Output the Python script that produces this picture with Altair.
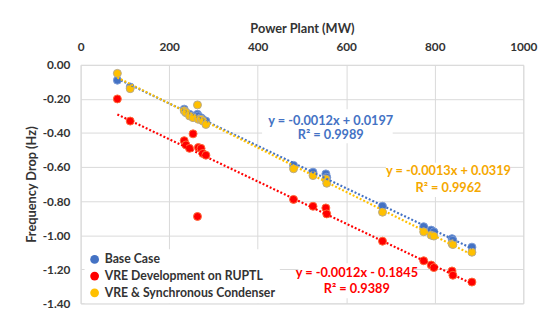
import altair as alt
import pandas as pd

# ---- data ----
series_names = ["Base Case", "VRE Development on RUPTL", "VRE & Synchronous Condenser"]
series_colors = ["#4472C4", "#FF0000", "#FFC000"]
series_strokes = ["#7A9BD6", "#FF6A3A", "#B8A98A"]

power_mw = [83, 112, 234, 238, 246, 254, 264, 266, 272, 276, 283,
            481, 525, 554, 556, 682, 775, 792, 798, 839, 841, 884]
base_case = [-0.09, -0.13, -0.26, -0.28, -0.29, -0.30, -0.29, -0.30, -0.31, -0.32, -0.33,
             -0.59, -0.63, -0.64, -0.66, -0.83, -0.95, -0.97, -0.98, -1.02, -1.03, -1.07]
vre_ruptl = [-0.20, -0.33, -0.445, -0.47, -0.49, -0.405, -0.89, -0.485, -0.49, -0.52, -0.53,
             -0.79, -0.83, -0.84, -0.875, -1.035, -1.15, -1.175, -1.19, -1.21, -1.235, -1.275]
vre_sc = [-0.05, -0.14, -0.27, -0.28, -0.30, -0.31, -0.235, -0.32, -0.32, -0.33, -0.35,
          -0.61, -0.65, -0.67, -0.695, -0.865, -0.98, -1.00, -1.005, -1.05, -1.055, -1.10]

x_ticks = [0, 200, 400, 600, 800, 1000]
y_ticks = [0.0, -0.2, -0.4, -0.6, -0.8, -1.0, -1.2, -1.4]

# trendline equation labels (as printed on the reference)
eq_text = ["y = -0.0012x + 0.0197", "R² = 0.9989",
           "y = -0.0013x + 0.0319", "R² = 0.9962",
           "y = -0.0012x - 0.1845", "R² = 0.9389"]
eq_x = [565, 565, 831, 831, 624, 624]
eq_y = [-0.328, -0.415, -0.626, -0.722, -1.221, -1.317]
eq_color = ["#4472C4", "#4472C4", "#F5A800", "#F5A800", "#FF0000", "#FF0000"]

# white boxes behind the equation labels
box_x1 = [410, 690, 492]
box_x2 = [705, 970, 750]
box_y1 = [-0.26, -0.575, -1.165]
box_y2 = [-0.46, -0.775, -1.37]

rows = []
for name, vals in zip(series_names, [base_case, vre_ruptl, vre_sc]):
    for xv, yv in zip(power_mw, vals):
        rows.append({"series": name, "x": xv, "y": yv})
df = pd.DataFrame(rows)
df_eq = pd.DataFrame({"t": eq_text, "x": eq_x, "y": eq_y, "c": eq_color})
df_box = pd.DataFrame({"x1": box_x1, "x2": box_x2, "y1": box_y1, "y2": box_y2})

FONT = "Lato"

xscale = alt.Scale(domain=[0, 1000], nice=False)
yscale = alt.Scale(domain=[-1.4, 0], nice=False)

xaxis = alt.Axis(orient="top", title="Power Plant (MW)", values=x_ticks, format="d")
yaxis = alt.Axis(title="Frequency Drop (Hz)", values=y_ticks,
                 labelExpr="replace(format(datum.value, '.2f'), '\u2212', '-')")

color_scale = alt.Scale(domain=series_names, range=series_colors)

boxes = alt.Chart(df_box).mark_rect(color="white").encode(
    x=alt.X("x1:Q", scale=xscale, axis=xaxis),
    x2="x2:Q",
    y=alt.Y("y1:Q", scale=yscale, axis=yaxis),
    y2="y2:Q",
)

points = alt.Chart(df).mark_point(filled=True, size=66, opacity=1, strokeWidth=1).encode(
    x=alt.X("x:Q", scale=xscale, axis=xaxis),
    y=alt.Y("y:Q", scale=yscale, axis=yaxis),
    color=alt.Color("series:N", scale=color_scale, sort=series_names,
                    legend=alt.Legend(title=None, orient="none", legendX=4, legendY=188,
                                      fillColor="white", padding=4, rowPadding=4,
                                      symbolType="circle", symbolSize=80, symbolStrokeWidth=0,
                                      labelFont=FONT, labelFontSize=12.5, labelFontWeight="bold",
                                      labelColor="#333333", labelLimit=300)),
    stroke=alt.Stroke("series:N", scale=alt.Scale(domain=series_names, range=series_strokes), legend=None),
    order=alt.Order("ord:Q"),
).transform_calculate(ord="indexof(%s, datum.series)" % str(series_names))

trend = alt.Chart(df).transform_regression("x", "y", groupby=["series"]).mark_line(
    strokeDash=[2, 2], strokeWidth=2.2).encode(
    x=alt.X("x:Q", scale=xscale, axis=xaxis),
    y=alt.Y("y:Q", scale=yscale, axis=yaxis),
    color=alt.Color("series:N", scale=color_scale, legend=None),
)

labels = alt.Chart(df_eq).mark_text(font=FONT, fontSize=13, fontWeight="bold", align="center",
                                    baseline="middle").encode(
    x=alt.X("x:Q", scale=xscale, axis=xaxis),
    y=alt.Y("y:Q", scale=yscale, axis=yaxis),
    text="t:N",
    color=alt.Color("c:N", scale=None),
)

chart = alt.layer(boxes, points, trend, labels).properties(
    width=451, height=243,
    autosize=alt.AutoSizeParams(type="none"),
    padding={"left": 74, "top": 55, "right": 15, "bottom": 12},
    background="white",
).configure_view(
    stroke="#D9D9D9", strokeWidth=1
).configure_axis(
    labelOverlap=False, labelFlush=False, ticks=False, domain=False,
    labelFont=FONT, labelFontSize=12, labelFontWeight="bold", labelColor="#333333",
    titleFont=FONT, titleFontSize=13, titleFontWeight="bold", titleColor="#333333",
    gridColor="#D9D9D9", gridWidth=1,
).configure_axisX(
    labelPadding=12, titlePadding=5,
).configure_axisY(
    labelPadding=11, titlePadding=4,
)

chart.save("out.html", embed_options={"renderer": "svg", "actions": False})
